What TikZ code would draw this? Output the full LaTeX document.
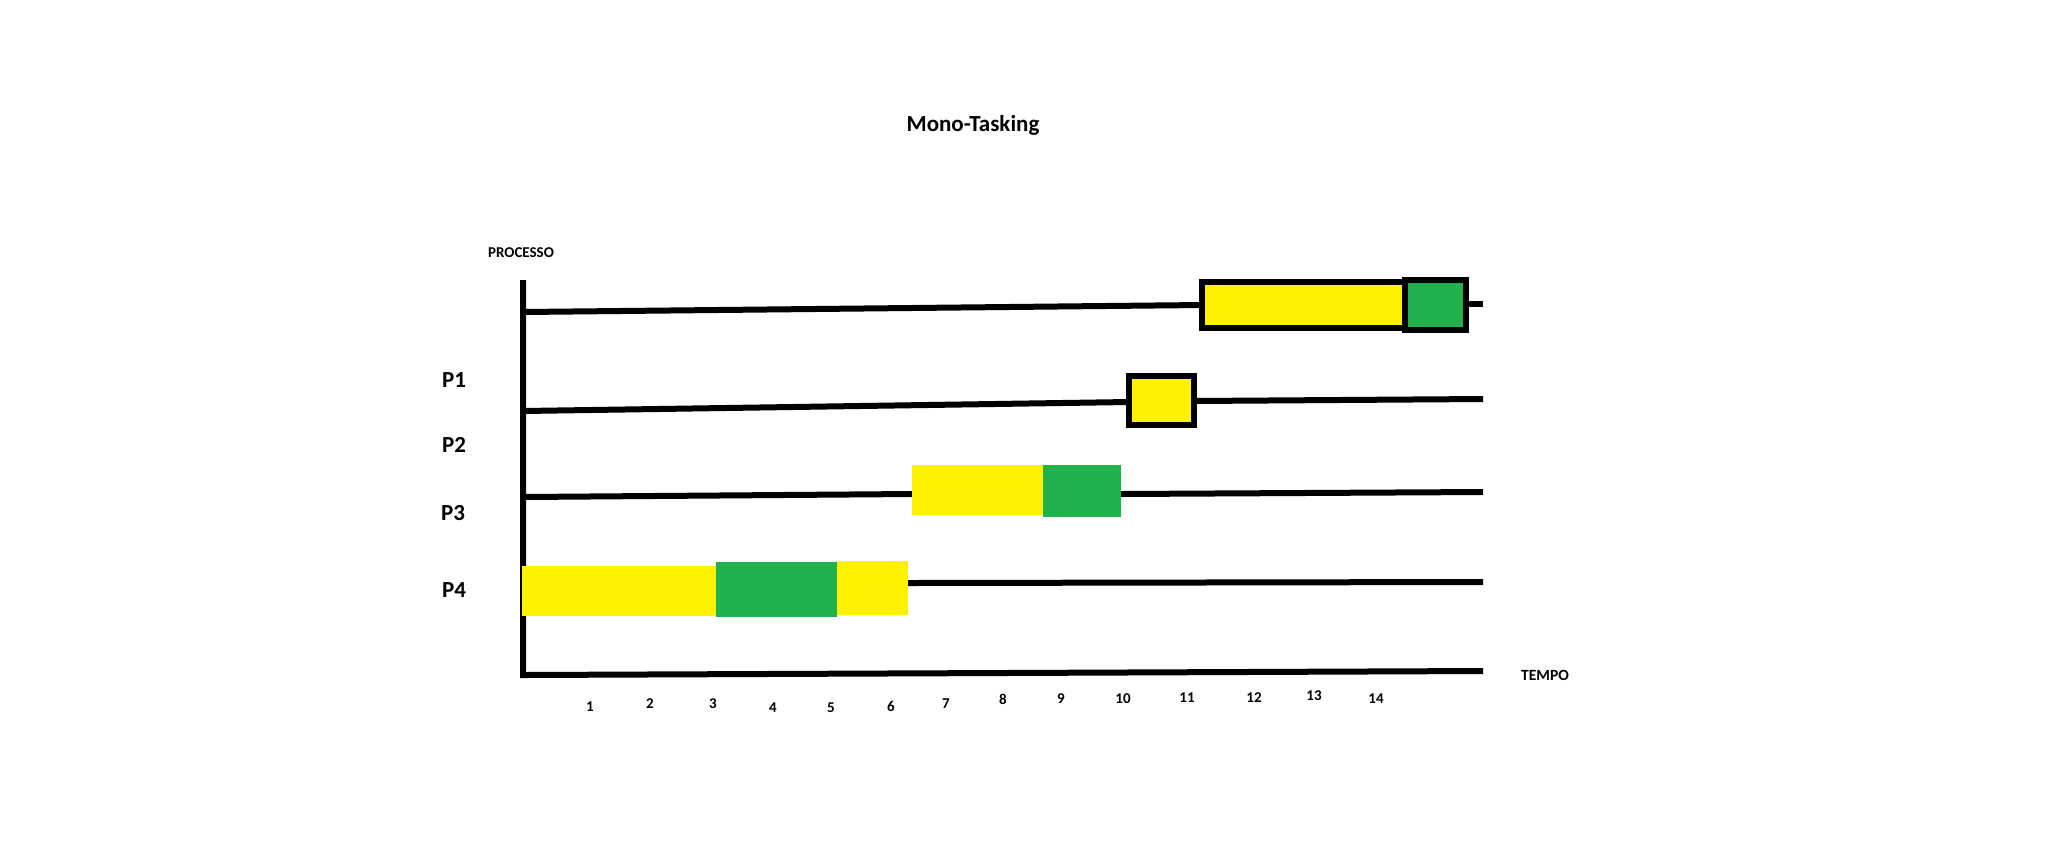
\documentclass[tikz,border=0pt]{standalone}
\usepackage{fontspec}
\setmainfont{Carlito}
\definecolor{paintYellow}{HTML}{FFF200}
\definecolor{paintGreen}{HTML}{22B14C}

\begin{document}
\begin{tikzpicture}[x=0.5pt,y=-0.5pt]
  \useasboundingbox (0,0) rectangle (2064,864);
  % titles
  \node[font=\fontsize{11.5}{14}\selectfont\bfseries] (title) at (973,125) {Mono-Tasking};
  \node[font=\fontsize{7.5}{9}\selectfont\bfseries] (processo) at (521,253) {PROCESSO};
  \node[font=\fontsize{7.8}{9}\selectfont\bfseries] (tempo) at (1545,675) {TEMPO};
  % process labels
  \node[font=\fontsize{11.5}{14}\selectfont\bfseries] (p1) at (454,380) {P1};
  \node[font=\fontsize{11.5}{14}\selectfont\bfseries] (p2) at (454,445) {P2};
  \node[font=\fontsize{11.5}{14}\selectfont\bfseries] (p3) at (453,513) {P3};
  \node[font=\fontsize{11.5}{14}\selectfont\bfseries] (p4) at (454,590) {P4};
  % time labels
  \foreach \t/\x/\y in {1/590/707, 2/650/704, 3/713/704, 4/773/708, 5/831/708,
                        6/891/706, 7/946/704, 8/1003/699, 9/1061/699, 10/1123/699,
                        11/1187/698, 12/1254/698, 13/1314/696, 14/1376/699}
    \node[font=\fontsize{7.5}{9}\selectfont\bfseries] (t\t) at (\x,\y) {\t};
  % axes
  \draw[line width=3pt] (523,280) -- (523,675) -- (1483,671);
  % lines
  \draw[line width=3pt] (523,312) -- (1202,305);
  \draw[line width=3pt] (1466,304) -- (1483,304);
  \draw[line width=3pt] (523,411) -- (1129,402);
  \draw[line width=3pt] (1194,401) -- (1483,399);
  \draw[line width=3pt] (523,497) -- (912,494);
  \draw[line width=3pt] (1121,494) -- (1483,492);
  \draw[line width=3pt] (908,583) -- (1483,582);
  % bars
  \fill[paintYellow] (522,566) rectangle (716,616);
  \fill[paintGreen] (716,562) rectangle (837,617);
  \fill[paintYellow] (837,561) rectangle (908,615);
  \fill[paintYellow] (912,465) rectangle (1043,515);
  \fill[paintGreen] (1043,465) rectangle (1121,517);
  \draw[line width=3pt, fill=paintYellow] (1129,376) rectangle (1194,425);
  \draw[line width=3pt, fill=paintYellow] (1202,282) rectangle (1405,328);
  \draw[line width=3pt, fill=paintGreen] (1405,280) rectangle (1466,330);
\end{tikzpicture}
\end{document}
